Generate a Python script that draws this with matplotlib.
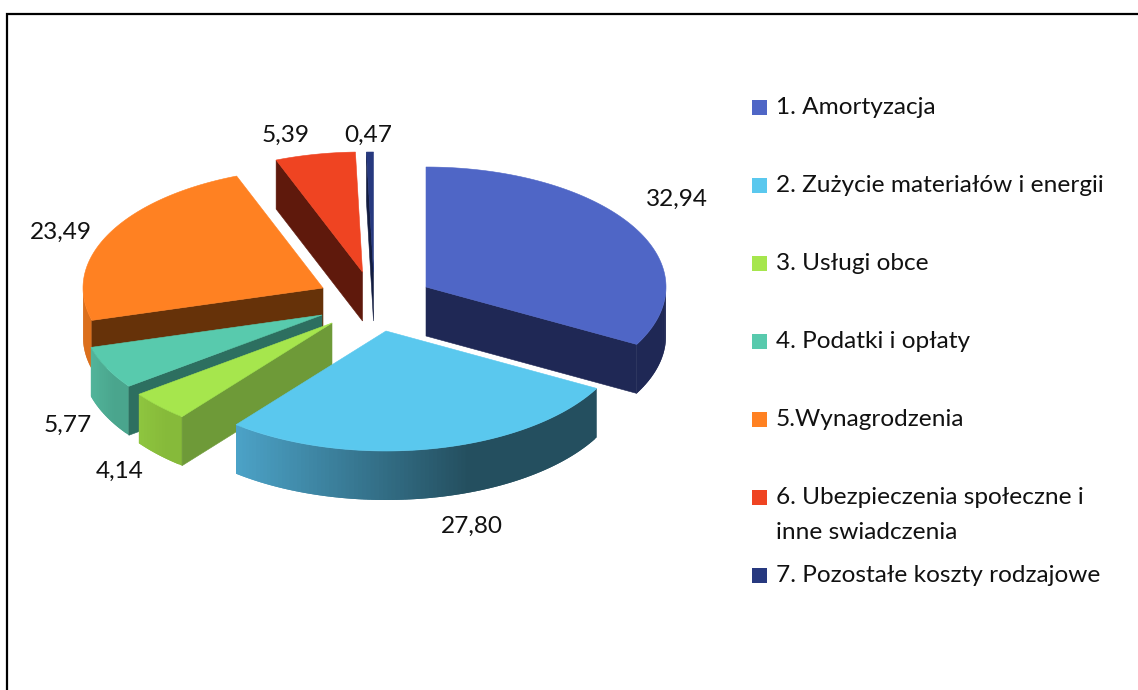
import numpy as np
import matplotlib
matplotlib.use('Agg')
import matplotlib.pyplot as plt
from matplotlib.colors import to_rgb
from matplotlib.patches import Polygon, Rectangle

plt.rcParams['font.family'] = ['Lato', 'DejaVu Sans']

# Data
labels = ['1. Amortyzacja', '2. Zużycie materiałów i energii', '3. Usługi obce',
          '4. Podatki i opłaty', '5.Wynagrodzenia',
          '6. Ubezpieczenia społeczne i\ninne swiadczenia', '7. Pozostałe koszty rodzajowe']
values = [32.94, 27.80, 4.14, 5.77, 23.49, 5.39, 0.47]
value_texts = ['32,94', '27,80', '4,14', '5,77', '23,49', '5,39', '0,47']

# Colours: top face, radial cut wall, outer wall left and right end
top_colors = ['#4F66C6', '#5AC8EE', '#A6E64D', '#58CAAD', '#FF8122', '#EF4422', '#27397F']
cut_colors = ['#1F2855', '#255060', '#6E9A38', '#2D6F60', '#663209', '#5F190C', '#121C40']
outer_left = ['#1F2855', '#4CA3C8', '#8FC63F', '#52B59B', '#DB6F1C', '#5F190C', '#121C40']
outer_right = ['#1F2855', '#244F5F', '#86BA3A', '#4AA58D', '#DB6F1C', '#5F190C', '#121C40']

# Layout in pixels of the 1138x690 picture
centers = [(426, 287), (386, 331), (332, 323), (322, 315), (323, 288), (362.5, 272), (373.5, 272)]
label_pos = [(677, 199), (472, 526), (120, 471), (68, 425), (61, 232), (286, 135), (368, 135)]
legend_y = [107, 185, 263, 341, 419, 497, 575]
rx, ry, depth = 240, 120, 49
# back to front
draw_order = [4, 5, 6, 0, 3, 2, 1]


def rim(center, deg):
    # clockwise from 12 o'clock, squashed into an ellipse
    a = np.radians(deg)
    return center[0] + rx * np.sin(a), center[1] - ry * np.cos(a)


def down(p):
    return p[0], p[1] + depth


def mix(c1, c2, t):
    return tuple((1 - t) * np.array(to_rgb(c1)) + t * np.array(to_rgb(c2)))


fig = plt.figure(figsize=(11.38, 6.9), dpi=100)
ax = fig.add_axes([0, 0, 1, 1])
ax.set_xlim(0, 1138)
ax.set_ylim(690, 0)
ax.axis('off')

# frame, only left and top are in the picture
ax.plot([7, 7, 1138], [690, 14, 14], color='black', lw=1.6, solid_joinstyle='miter')

edges = np.cumsum([0] + values) / sum(values) * 360

for i in draw_order:
    start, end = edges[i], edges[i + 1]
    c = centers[i]

    # outer wall, only the front half of the ellipse shows
    w0, w1 = max(start, 90), min(end, 270)
    if w1 > w0:
        steps = np.linspace(w0, w1, max(int(w1 - w0), 2) + 1)
        xs = [rim(c, d)[0] for d in steps]
        x_left, x_right = min(xs), min(xs) + 0.65 * (max(xs) - min(xs))
        for k in range(len(steps) - 1):
            # each strip overlaps the next one so no seams show
            part = [rim(c, d) for d in steps[k:k + 3]]
            t = np.clip((part[0][0] - x_left) / (x_right - x_left), 0, 1)
            col = mix(outer_left[i], outer_right[i], t)
            ax.add_patch(Polygon(part + [down(p) for p in part[::-1]], fc=col, ec='none'))

    # radial cuts facing the viewer
    for d, show in ((start, start > 180), (end, end < 180)):
        if show:
            p = rim(c, d)
            ax.add_patch(Polygon([c, p, down(p), down(c)], fc=cut_colors[i], ec=cut_colors[i], lw=0.4))

    # top face
    arc = [rim(c, d) for d in np.linspace(start, end, 120)]
    ax.add_patch(Polygon([c] + arc, fc=top_colors[i], ec=top_colors[i], lw=0.4))

for txt, pos in zip(value_texts, label_pos):
    ax.text(pos[0], pos[1], txt, fontsize=17.6, color='#111111', ha='center', va='center')

# legend
for i, lab in enumerate(labels):
    y = legend_y[i]
    ax.add_patch(Rectangle((752, y - 7.5), 15, 15, fc=top_colors[i], ec='none'))
    ax.text(776, y - 10, lab, fontsize=17.6, color='#111111', ha='left', va='top', linespacing=1.8)

fig.savefig('out.png', dpi=100)
